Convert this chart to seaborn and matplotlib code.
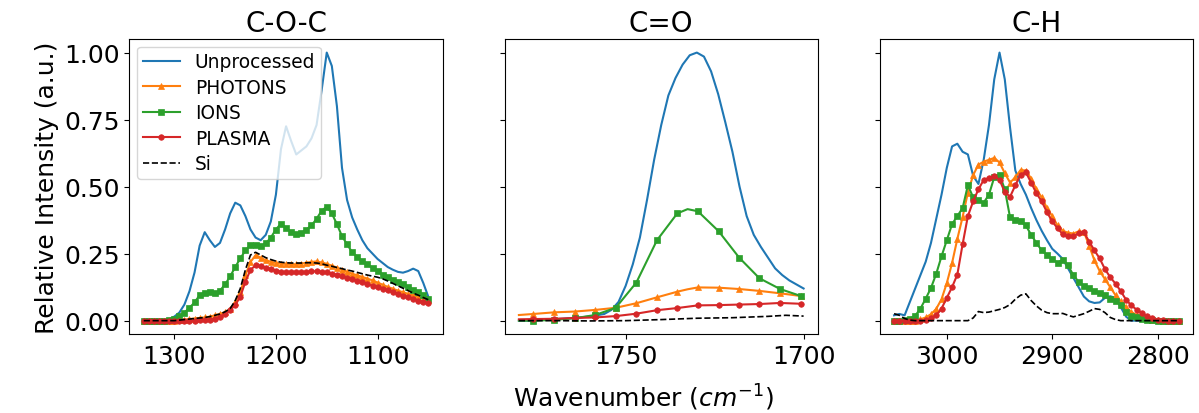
import numpy as np
import matplotlib
matplotlib.use("Agg")
import matplotlib.pyplot as plt
import seaborn as sns

# ---------------- C-O-C region (1330 -> 1050, step 5) ----------------
coc_wn = np.arange(1330, 1049, -5)
unproc_coc = [
    0, 0, 0, 0, 0, 0.005, 0.015, 0.03, 0.06, 0.11,
    0.18, 0.28, 0.33, 0.30, 0.275, 0.29, 0.34, 0.40, 0.44, 0.43,
    0.39, 0.34, 0.31, 0.30, 0.32, 0.37, 0.47, 0.64, 0.725, 0.67,
    0.62, 0.635, 0.65, 0.68, 0.73, 0.86, 1.0, 0.95, 0.80, 0.57,
    0.45, 0.385, 0.34, 0.30, 0.27, 0.25, 0.23, 0.215, 0.20, 0.19,
    0.182, 0.179, 0.185, 0.194, 0.185, 0.14, 0.088]
photons_coc = [
    0, 0, 0, 0, 0, 0, 0, 0.002, 0.004, 0.006,
    0.008, 0.01, 0.012, 0.015, 0.02, 0.025, 0.032, 0.042, 0.07, 0.107,
    0.169, 0.219, 0.244, 0.235, 0.225, 0.22, 0.215, 0.213, 0.212, 0.211,
    0.21, 0.213, 0.216, 0.219, 0.221, 0.217, 0.212, 0.205, 0.198, 0.19,
    0.182, 0.175, 0.169, 0.163, 0.157, 0.15, 0.142, 0.134, 0.126, 0.119,
    0.112, 0.106, 0.10, 0.094, 0.088, 0.082, 0.076]
ions_coc = [
    0, 0, 0, 0, 0, 0.003, 0.008, 0.018, 0.03, 0.048,
    0.068, 0.095, 0.105, 0.107, 0.103, 0.112, 0.135, 0.165, 0.20, 0.232,
    0.262, 0.282, 0.283, 0.278, 0.288, 0.31, 0.34, 0.362, 0.345, 0.33,
    0.322, 0.327, 0.34, 0.355, 0.38, 0.41, 0.425, 0.40, 0.36, 0.315,
    0.285, 0.255, 0.238, 0.222, 0.21, 0.197, 0.185, 0.172, 0.163, 0.153,
    0.144, 0.135, 0.125, 0.115, 0.106, 0.095, 0.082]
plasma_coc = [
    0, 0, 0, 0, 0, 0, 0, 0, 0, 0,
    0, 0.001, 0.002, 0.003, 0.005, 0.015, 0.025, 0.04, 0.058, 0.09,
    0.145, 0.19, 0.206, 0.204, 0.197, 0.192, 0.187, 0.182, 0.18, 0.18,
    0.18, 0.181, 0.182, 0.184, 0.184, 0.182, 0.18, 0.175, 0.17, 0.165,
    0.16, 0.155, 0.149, 0.143, 0.137, 0.131, 0.125, 0.119, 0.113, 0.107,
    0.10, 0.093, 0.087, 0.081, 0.075, 0.07, 0.065]
si_coc = [
    0, 0, 0, 0, 0, 0, 0, 0.002, 0.004, 0.006,
    0.008, 0.01, 0.012, 0.015, 0.02, 0.025, 0.033, 0.045, 0.075, 0.12,
    0.19, 0.245, 0.255, 0.245, 0.235, 0.228, 0.222, 0.218, 0.216, 0.215,
    0.215, 0.215, 0.216, 0.216, 0.215, 0.212, 0.207, 0.203, 0.198, 0.194,
    0.189, 0.185, 0.18, 0.175, 0.17, 0.166, 0.162, 0.156, 0.148, 0.139,
    0.13, 0.121, 0.112, 0.103, 0.095, 0.086, 0.078]

# ---------------- C=O region ----------------
co_wn = np.arange(1780, 1699, -2)
unproc_co = [
    0, 0, 0, 0.002, 0.003, 0.005, 0.007, 0.009, 0.011, 0.013,
    0.016, 0.02, 0.025, 0.04, 0.07, 0.13, 0.21, 0.31, 0.45, 0.60,
    0.73, 0.84, 0.905, 0.955, 0.99, 1.0, 0.985, 0.93, 0.845, 0.74,
    0.63, 0.50, 0.39, 0.32, 0.275, 0.235, 0.195, 0.17, 0.15, 0.135,
    0.12]
# first point and the 1732.6 point carry no marker
co_mark_wn = [1780, 1775.9, 1770.1, 1764.3, 1758.6, 1752.8, 1747.0, 1741.2,
              1735.5, 1732.6, 1729.7, 1723.9, 1718.1, 1712.4, 1706.6, 1700.8]
photons_co = [0.021, 0.025, 0.031, 0.034, 0.04, 0.048, 0.065, 0.087,
              0.108, 0.117, 0.124, 0.123, 0.118, 0.111, 0.102, 0.092]
ions_co = [0.0, 0.0, 0.003, 0.009, 0.021, 0.048, 0.142, 0.30,
           0.400, 0.416, 0.408, 0.334, 0.235, 0.158, 0.118, 0.092]
plasma_co = [0.005, 0.006, 0.007, 0.01, 0.012, 0.017, 0.026, 0.039,
             0.047, 0.052, 0.057, 0.058, 0.06, 0.062, 0.066, 0.063]
co_marks = [1, 2, 3, 4, 5, 6, 7, 8, 10, 11, 12, 13, 14, 15]
si_co_wn = [1780, 1770, 1760, 1750, 1740, 1730, 1720, 1710, 1705, 1700]
si_co = [0.0, 0.0, -0.001, 0.0, 0.004, 0.009, 0.011, 0.016, 0.02, 0.017]

# ---------------- C-H region (3050 -> 2780, step 5) ----------------
ch_wn = np.arange(3050, 2779, -5)
unproc_ch = [
    0.02, 0.025, 0.02, 0.07, 0.12, 0.17, 0.22, 0.29, 0.38, 0.47,
    0.57, 0.65, 0.66, 0.63, 0.62, 0.54, 0.51, 0.60, 0.73, 0.90,
    1.0, 0.90, 0.72, 0.56, 0.51, 0.47, 0.42, 0.375, 0.335, 0.30,
    0.268, 0.25, 0.23, 0.195, 0.16, 0.125, 0.09, 0.072, 0.066, 0.068,
    0.085, 0.091, 0.085, 0.05, 0.015, 0, 0, 0, 0, 0,
    0, 0, 0, 0, 0]
photons_ch = [
    0, 0, 0, 0, 0, 0.005, 0.012, 0.024, 0.044, 0.08,
    0.14, 0.215, 0.305, 0.387, 0.478, 0.543, 0.582, 0.593, 0.60, 0.607,
    0.59, 0.55, 0.515, 0.535, 0.562, 0.56, 0.53, 0.49, 0.46, 0.42,
    0.39, 0.355, 0.335, 0.328, 0.325, 0.333, 0.331, 0.28, 0.225, 0.185,
    0.155, 0.125, 0.095, 0.072, 0.052, 0.032, 0.022, 0.013, 0.007, 0.004,
    0.002, 0, 0, 0, 0]
ions_ch = [
    0, 0, 0.002, 0.008, 0.018, 0.045, 0.082, 0.122, 0.175, 0.24,
    0.30, 0.36, 0.39, 0.42, 0.505, 0.46, 0.449, 0.44, 0.47, 0.535,
    0.545, 0.49, 0.385, 0.374, 0.37, 0.355, 0.32, 0.29, 0.262, 0.245,
    0.23, 0.216, 0.228, 0.206, 0.17, 0.145, 0.13, 0.12, 0.11, 0.104,
    0.095, 0.082, 0.074, 0.058, 0.032, 0.018, 0.012, 0.007, 0.004, 0.002,
    0, 0, 0, 0, 0]
plasma_ch = [
    0, 0, 0, 0, 0, 0, 0.003, 0.009, 0.02, 0.045,
    0.085, 0.125, 0.172, 0.285, 0.39, 0.445, 0.49, 0.525, 0.532, 0.54,
    0.525, 0.48, 0.462, 0.505, 0.545, 0.553, 0.515, 0.475, 0.445, 0.405,
    0.37, 0.345, 0.322, 0.314, 0.314, 0.326, 0.33, 0.295, 0.262, 0.232,
    0.192, 0.162, 0.138, 0.11, 0.078, 0.057, 0.041, 0.028, 0.016, 0.009,
    0.004, 0.002, 0, 0, 0]
si_ch = [
    0.026, 0.02, 0.008, 0.002, 0, 0, 0, 0, 0, 0,
    0, 0, 0, 0, 0, 0.01, 0.034, 0.03, 0.032, 0.037,
    0.042, 0.049, 0.06, 0.08, 0.095, 0.1, 0.075, 0.055, 0.039, 0.03,
    0.026, 0.026, 0.027, 0.02, 0.014, 0.02, 0.026, 0.035, 0.045, 0.042,
    0.03, 0.012, 0.004, 0, 0, 0, 0, 0, 0, 0,
    0, 0, 0, 0, 0]

titles = ["C-O-C", "C=O", "C-H"]
xticks = [[1300, 1200, 1100], [1750, 1700], [3000, 2900, 2800]]

pal = sns.color_palette("tab10")
c_unp, c_pho, c_ion, c_pla = pal[0], pal[1], pal[2], pal[3]

fig, axes = plt.subplots(1, 3, figsize=(11.99, 4.14), dpi=100, sharey=True)
fig.subplots_adjust(left=0.108, right=0.995, bottom=0.19, top=0.903, wspace=0.198)


def draw(ax, wn, unp, mk_wn, pho, ion, pla, si_wn, si, every=None):
    common = dict(ax=ax, sort=False, estimator=None, legend=False)
    sns.lineplot(x=wn, y=unp, color=c_unp, lw=1.5, label="Unprocessed", **common)
    for vals, col, mk, ms, lab in [(pho, c_pho, "^", 5, "PHOTONS"),
                                   (ion, c_ion, "s", 4.5, "IONS"),
                                   (pla, c_pla, "o", 4, "PLASMA")]:
        sns.lineplot(x=mk_wn, y=vals, color=col, lw=1.5, marker=mk, markersize=ms,
                     markeredgecolor=col, markeredgewidth=0.5, markevery=every,
                     label=lab, **common)
    sns.lineplot(x=si_wn, y=si, color="black", lw=1.2, linestyle="--", label="Si", **common)


draw(axes[0], coc_wn, unproc_coc, coc_wn, photons_coc, ions_coc, plasma_coc, coc_wn, si_coc)
draw(axes[1], co_wn, unproc_co, co_mark_wn, photons_co, ions_co, plasma_co, si_co_wn, si_co,
     every=co_marks)
draw(axes[2], ch_wn, unproc_ch, ch_wn, photons_ch, ions_ch, plasma_ch, ch_wn, si_ch)

for ax, t, xt in zip(axes, titles, xticks):
    ax.set_title(t, fontsize=20)
    ax.invert_xaxis()
    ax.set_xticks(xt)
    ax.tick_params(labelsize=18)

axes[0].set_yticks([0, 0.25, 0.5, 0.75, 1.0])
axes[0].set_ylabel("Relative Intensity (a.u.)", fontsize=18)
axes[0].legend(loc="upper left", fontsize=13.4, labelspacing=0.35, borderpad=0.3,
               borderaxespad=0.4)

fig.text(0.537, 0.04, r"Wavenumber ($cm^{-1}$)", ha="center", va="center", fontsize=18)

fig.savefig("out.png", dpi=100)
